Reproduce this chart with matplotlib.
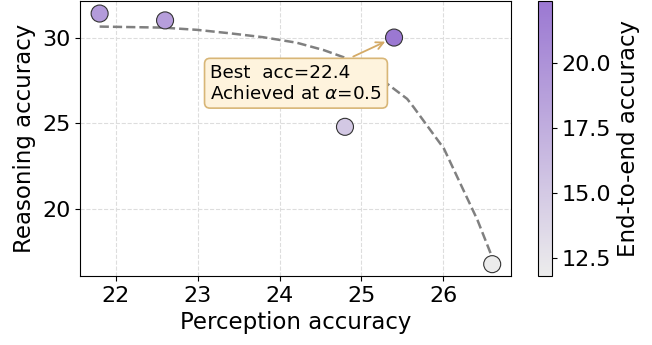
import matplotlib
matplotlib.use("Agg")
import matplotlib.pyplot as plt
from matplotlib.colors import LinearSegmentedColormap

# measured points (one per alpha setting)
perception = [21.8, 22.6, 25.4, 24.8, 26.6]
reasoning = [31.4, 31.0, 30.0, 24.8, 16.8]
end_to_end = [19.2, 18.9, 22.4, 15.1, 11.8]

# dashed trend curve
trend_x = [21.80, 22.57, 22.99, 23.39, 23.80, 24.21, 24.54, 24.78, 25.31,
           25.56, 25.64, 26.01, 26.21, 26.42, 26.58]
trend_y = [30.64, 30.58, 30.45, 30.25, 30.02, 29.70, 29.27, 28.86, 27.33,
           26.43, 25.94, 23.53, 21.50, 19.37, 17.44]

best_acc = 22.4
best_alpha = 0.5

cmap = LinearSegmentedColormap.from_list("grey_purple", ["#ececec", "#9b78d2"])

fig = plt.figure(figsize=(6.52, 3.45), dpi=100)
ax = fig.add_axes([80 / 652, 69 / 345, 431 / 652, 275 / 345])
cax = fig.add_axes([538 / 652, 69 / 345, 14 / 652, 275 / 345])

ax.grid(True, linestyle="--", color="#dddddd", linewidth=0.8)
ax.set_axisbelow(True)

ax.plot(trend_x, trend_y, linestyle="--", color="gray", linewidth=1.8, zorder=2)

sc = ax.scatter(perception, reasoning, c=end_to_end, cmap=cmap, s=150,
                edgecolors="#333333", linewidths=0.8, zorder=3)

ax.annotate("Best  acc=%.1f\nAchieved at $\\alpha$=%.1f" % (best_acc, best_alpha),
            xy=(25.4, 30.0), xytext=(23.15, 27.34), textcoords="data",
            ha="left", va="center", fontsize=13.2, zorder=5,
            bbox=dict(boxstyle="round,pad=0.3", fc="#fef3dd", ec="#d8b677", lw=1.2),
            arrowprops=dict(arrowstyle="->", color="#d4aa66", lw=1.3,
                            shrinkB=7))

ax.set_xlim(21.56, 26.83)
ax.set_ylim(16.11, 32.13)
ax.set_xticks([22, 23, 24, 25, 26])
ax.set_yticks([20, 25, 30])
ax.tick_params(labelsize=16)
ax.set_xlabel("Perception accuracy", fontsize=16.5)
ax.set_ylabel("Reasoning accuracy", fontsize=16.5)

cb = fig.colorbar(sc, cax=cax)
cb.set_ticks([12.5, 15.0, 17.5, 20.0])
cb.ax.tick_params(labelsize=16)
cb.set_label("End-to-end accuracy", fontsize=16.5)

fig.savefig("out.png", dpi=100)
